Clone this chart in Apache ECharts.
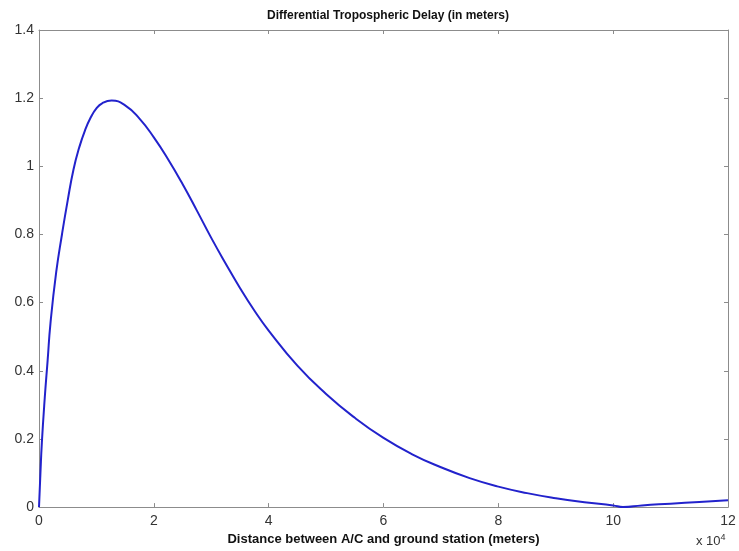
<!DOCTYPE html>
<html><head><meta charset="utf-8">
<script src="https://cdn.jsdelivr.net/npm/echarts@6/dist/echarts.min.js"></script>
<style>html,body{margin:0;padding:0;background:#fff}#c{width:739px;height:551px}</style>
</head><body><div id="c"></div>
<script>
const titleText = "Differential Tropospheric Delay (in meters)";
const xLabel = "Distance between A/C and ground station (meters)";
// distance in units of 1e4 meters
const distance = [0,0.025,0.05,0.1,0.15,0.2,0.3,0.4,0.5,0.6,0.7,0.8,0.9,1.0,1.1,1.266,1.5,1.75,2.0,2.25,2.5,2.75,3.0,3.25,3.5,3.75,4.0,4.5,5.0,5.5,6.0,6.5,7.0,7.5,8.0,8.5,9.0,9.5,10.0,10.17,10.5,11.0,11.5,12.0];
const delay = [0,0.1,0.19,0.32,0.43,0.54,0.69,0.80,0.90,0.99,1.055,1.105,1.143,1.17,1.185,1.193,1.179,1.14,1.085,1.02,0.948,0.87,0.79,0.715,0.643,0.577,0.518,0.415,0.332,0.262,0.203,0.155,0.117,0.085,0.060,0.041,0.026,0.014,0.005,0.0,0.005,0.010,0.015,0.02];

const chart = echarts.init(document.getElementById('c'));
const axisLine = {show:true, onZero:false, lineStyle:{color:'#8c8c8c', width:1}};
const tick = {show:true, inside:true, length:4, lineStyle:{color:'#8c8c8c'}};
const lbl = {color:'#333', fontFamily:'Liberation Sans, Arial', fontSize:14};
chart.setOption({
  animation:false,
  backgroundColor:'#fff',
  title:{text:titleText, left:383, textAlign:'center', top:5,
    textStyle:{fontFamily:'Liberation Sans, Arial', fontSize:12, fontWeight:'bold', color:'#111'}},
  grid:{left:39, right:11, top:30, bottom:43},
  xAxis:[{type:'value', min:0, max:12, interval:2, position:'bottom',
      axisLine, axisTick:tick, splitLine:{show:false},
      axisLabel:Object.assign({margin:7}, lbl),
      name:xLabel, nameLocation:'middle', nameGap:24,
      nameTextStyle:{fontFamily:'Liberation Sans, Arial', fontSize:13, fontWeight:'bold', color:'#111'}},
    {type:'value', min:0, max:12, interval:2, position:'top',
      axisLine, axisTick:tick, splitLine:{show:false}, axisLabel:{show:false}}],
  yAxis:[{type:'value', min:0, max:1.4, interval:0.2, position:'left',
      axisLine, axisTick:tick, splitLine:{show:false},
      axisLabel:Object.assign({margin:5, formatter:v=>String(Math.round(v*10)/10)}, lbl)},
    {type:'value', min:0, max:1.4, interval:0.2, position:'right',
      axisLine, axisTick:tick, splitLine:{show:false}, axisLabel:{show:false}}],
  graphic:[{type:'text', left:696, top:533,
    style:{rich:{a:{fontSize:13, fontFamily:'Liberation Sans, Arial', fill:'#333'},
                 s:{fontSize:9, fontFamily:'Liberation Sans, Arial', fill:'#333', verticalAlign:'top', padding:[0,0,8,0]}},
           text:'{a|x 10}{s|4}'}}],
  series:[{type:'line', xAxisIndex:0, yAxisIndex:0, smooth:0.5, showSymbol:false,
    lineStyle:{color:'#2222cc', width:2},
    data: distance.map((d,i)=>[d, delay[i]])}]
});
</script></body></html>
